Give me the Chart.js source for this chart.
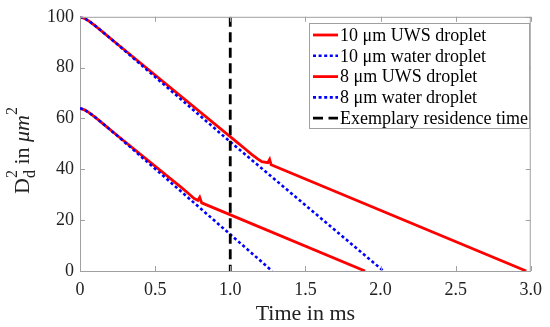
<!DOCTYPE html>
<html>
<head>
<meta charset="utf-8">
<script src="https://cdn.jsdelivr.net/npm/chart.js@4/dist/chart.umd.min.js"></script>
<style>
  html, body { margin: 0; padding: 0; background: #fff; }
  #wrap { width: 550px; height: 327px; }
</style>
</head>
<body>
<div id="wrap"><canvas id="myChart" width="550" height="327"></canvas></div>
<script>
// values
const tUws10 = [0, 0.03, 0.06, 0.1, 0.15, 0.25, 1.05, 1.1, 1.14, 1.18, 1.21, 1.25, 1.262, 1.272, 2.97];
const dUws10 = [100, 99.4, 98.3, 96.5, 94.1, 89.2, 50.4, 48.0, 46.0, 44.2, 43.0, 42.6, 43.9, 41.8, 0];
const tWater10 = [0, 0.03, 0.06, 0.1, 0.15, 0.25, 1.0, 2.02];
const dWater10 = [100, 99.4, 98.3, 96.5, 94.1, 89.1, 50.8, 0];
const tUws8 = [0, 0.03, 0.06, 0.1, 0.15, 0.25, 0.68, 0.72, 0.76, 0.785, 0.797, 0.81, 1.897];
const dUws8 = [64, 63.4, 62.3, 60.5, 58.1, 53.2, 32.6, 30.6, 28.5, 27.8, 29.0, 26.8, 0];
const tWater8 = [0, 0.03, 0.06, 0.1, 0.15, 0.25, 1.279];
const dWater8 = [64, 63.4, 62.3, 60.5, 58.1, 53.1, 0];
const tResidence = [1, 1];
const dResidence = [100, 0];

const seriesLabels = ["10 \u03bcm UWS droplet", "10 \u03bcm water droplet", "8 \u03bcm UWS droplet", "8 \u03bcm water droplet", "Exemplary residence time"];
const xTicks = [0, 0.5, 1, 1.5, 2, 2.5, 3];
const yTicks = [0, 20, 40, 60, 80, 100];

const serif = '"Liberation Serif", "Times New Roman", serif';
const axisGray = "#a0a0a0";

function pts(xs, ys) {
  return xs.map((x, i) => ({ x: x, y: ys[i] }));
}

const red = "#ff0000";
const blue = "#0000ff";
const datasets = [
  { label: seriesLabels[0], data: pts(tUws10, dUws10), borderColor: red, borderWidth: 2.8, order: 2 },
  { label: seriesLabels[1], data: pts(tWater10, dWater10), borderColor: blue, borderWidth: 2.6, borderDash: [3, 2.6], order: 1 },
  { label: seriesLabels[2], data: pts(tUws8, dUws8), borderColor: red, borderWidth: 2.8, order: 2 },
  { label: seriesLabels[3], data: pts(tWater8, dWater8), borderColor: blue, borderWidth: 2.6, borderDash: [3, 2.6], order: 1 },
  { label: seriesLabels[4], data: pts(tResidence, dResidence), borderColor: "#000", borderWidth: 2.8, borderDash: [10, 5.5], order: 0 }
];
datasets.forEach(d => { d.showLine = true; d.pointRadius = 0; d.fill = false; d.tension = 0; });

// inward ticks, box, titles and legend drawn by hand like matlab
const extras = {
  id: "extras",
  afterDraw(chart) {
    const ctx = chart.ctx;
    const a = chart.chartArea;
    const xs = chart.scales.x, ys = chart.scales.y;
    ctx.save();
    ctx.strokeStyle = axisGray;
    ctx.lineWidth = 1;
    ctx.beginPath();
    ctx.moveTo(a.left, a.top + 0.5); ctx.lineTo(a.right, a.top + 0.5);
    ctx.moveTo(a.right - 0.5, a.top); ctx.lineTo(a.right - 0.5, a.bottom);
    xTicks.forEach(v => {
      const px = Math.round(xs.getPixelForValue(v)) + 0.5;
      ctx.moveTo(px, a.bottom); ctx.lineTo(px, a.bottom - 5);
      ctx.moveTo(px, a.top); ctx.lineTo(px, a.top + 5);
    });
    yTicks.forEach(v => {
      const py = Math.round(ys.getPixelForValue(v)) + 0.5;
      ctx.moveTo(a.left, py); ctx.lineTo(a.left + 5, py);
      ctx.moveTo(a.right, py); ctx.lineTo(a.right - 5, py);
    });
    ctx.stroke();

    // x title
    ctx.fillStyle = "#222";
    ctx.font = "22px " + serif;
    ctx.textAlign = "center";
    ctx.textBaseline = "alphabetic";
    ctx.fillText("Time in ms", (a.left + a.right) / 2, 320);

    // y title: D_d^2 in μm^2
    ctx.translate(29, 150.5);
    ctx.rotate(-Math.PI / 2);
    ctx.textAlign = "left";
    const big = "22px " + serif, small = "16px " + serif, ital = "italic 22px " + serif;
    const parts = [
      { t: "D", f: big, dy: 0 },
      { t: "d", f: small, dy: 6, stack: true },
      { t: "2", f: small, dy: -12 },
      { t: " in ", f: big, dy: 0 },
      { t: "\u03bcm", f: ital, dy: 0 },
      { t: "2", f: small, dy: -12 }
    ];
    let w = 0;
    parts.forEach(p => { ctx.font = p.f; p.w = ctx.measureText(p.t).width; if (!p.stack) w += p.w; });
    let x = -w / 2;
    parts.forEach(p => {
      ctx.font = p.f;
      ctx.fillText(p.t, x, p.dy);
      if (!p.stack) x += p.w;
    });
    ctx.restore();

    // legend
    ctx.save();
    const bx = 309.5, by = 23.5, bw = 220, bh = 105;
    ctx.fillStyle = "#fff";
    ctx.fillRect(bx, by, bw, bh);
    ctx.strokeStyle = axisGray;
    ctx.lineWidth = 1;
    ctx.strokeRect(bx, by, bw, bh);
    ctx.font = "18px " + serif;
    ctx.textBaseline = "middle";
    ctx.textAlign = "left";
    datasets.forEach((d, i) => {
      const cy = 35 + i * 20.8;
      ctx.strokeStyle = d.borderColor;
      ctx.lineWidth = d.borderWidth;
      ctx.setLineDash(d.borderDash || []);
      ctx.beginPath();
      ctx.moveTo(313, cy); ctx.lineTo(338, cy);
      ctx.stroke();
      ctx.setLineDash([]);
      ctx.fillStyle = "#000";
      ctx.fillText(d.label, 340, cy + 1);
    });
    ctx.restore();
  }
};

const config = {
  type: "scatter",
  data: { datasets: datasets },
  options: {
    responsive: false,
    animation: false,
    layout: { padding: { top: 14, right: 12, bottom: 0, left: 0 } },
    plugins: { legend: { display: false }, tooltip: { enabled: false } },
    scales: {
      x: {
        type: "linear", min: 0, max: 3,
        afterBuildTicks: s => { s.ticks = xTicks.map(v => ({ value: v })); },
        ticks: { font: { family: serif, size: 18 }, color: "#222", padding: 8, maxRotation: 0 },
        grid: { display: false, drawTicks: false },
        border: { display: true, color: axisGray },
        afterFit: s => { s.height = 56; }
      },
      y: {
        type: "linear", min: 0, max: 100,
        afterBuildTicks: s => { s.ticks = yTicks.map(v => ({ value: v })); },
        ticks: { font: { family: serif, size: 18 }, color: "#222", padding: 6 },
        grid: { display: false, drawTicks: false },
        border: { display: true, color: axisGray },
        afterFit: s => { s.width = 80; }
      }
    }
  },
  plugins: [extras]
};

new Chart(document.getElementById("myChart"), config);
</script>
</body>
</html>
